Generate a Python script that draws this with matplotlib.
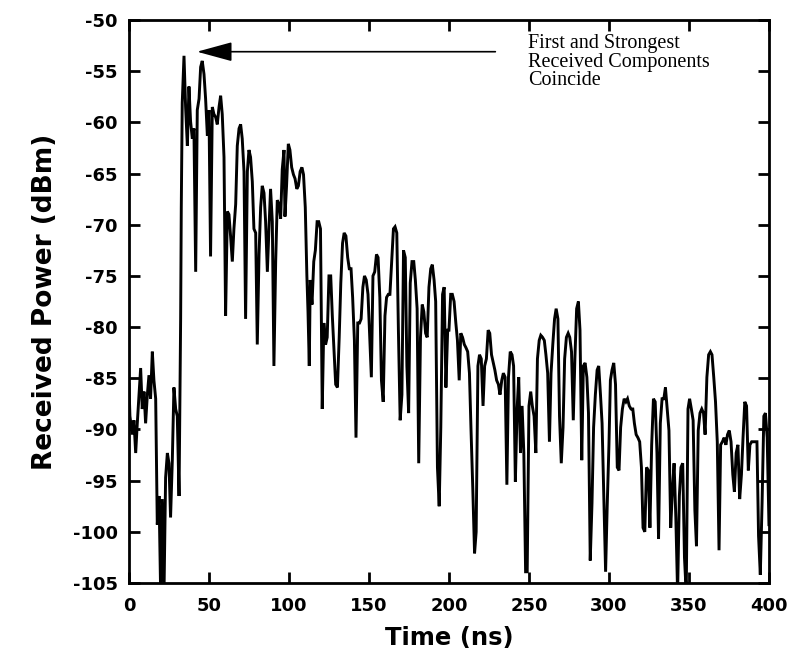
#!/usr/bin/env python3
"""Received power vs time (power delay profile) with annotation of the first /
strongest arrival."""

import matplotlib
matplotlib.use("Agg")
import matplotlib.pyplot as plt
import numpy as np

# ---- data (time in ns, power in dBm) ----
time_a = [0.0, 0.6, 2.1, 3.1, 4.2, 5.2, 6.3, 7.3, 8.3, 9.4, 10.4, 11.5, 12.5,
          13.5, 14.6, 15.6, 16.7, 17.7, 18.8, 19.8, 20.8, 21.9, 22.9, 24.0,
          25.0, 26.0, 27.1, 28.1, 29.2, 30.2, 31.3, 32.3, 32.7, 33.3, 34.4,
          35.4, 36.5, 37.5, 38.5, 39.6, 40.6, 41.7, 42.7, 43.8, 44.8, 45.8,
          46.9, 47.9, 49.0, 50.0, 51.0, 52.1, 53.1, 54.2, 55.2, 56.3, 57.3,
          58.3, 59.4, 60.4, 61.5, 62.5, 63.5, 64.6, 65.6, 66.7, 67.7, 68.8,
          69.8, 70.8, 71.9, 72.9, 74.0, 75.0, 76.0, 77.1, 78.1, 79.2, 80.2,
          81.3, 82.3, 83.3, 84.4, 85.4, 86.5, 87.5, 88.5, 89.6, 90.6, 91.7,
          92.7, 93.8, 94.8, 95.8, 96.9]
power_a = [-85.6, -88.7, -90.5, -89.1, -92.3, -89.4, -86.6, -84.0, -88.0,
           -86.3, -89.4, -86.6, -84.7, -87.0, -82.4, -85.2, -87.0, -99.3,
           -96.5, -106.0, -96.8, -106.0, -94.7, -92.3, -93.3, -98.6, -93.0,
           -85.9, -88.0, -88.7, -96.5, -79.2, -68.3, -58.1, -53.5, -58.5,
           -62.3, -56.5, -59.9, -61.6, -60.6, -74.6, -58.8, -57.7, -54.6,
           -54.0, -55.3, -57.7, -61.3, -58.8, -73.1, -58.5, -59.2, -59.5,
           -60.2, -58.5, -57.4, -59.2, -63.4, -78.9, -68.7, -69.0, -71.1,
           -73.6, -70.4, -68.0, -62.3, -60.6, -60.2, -61.6, -64.8, -79.2,
           -64.8, -62.7, -63.4, -65.8, -70.4, -70.8, -81.7, -72.9, -68.3,
           -66.2, -66.9, -69.7, -74.6, -70.4, -66.5, -69.7, -83.8, -73.6,
           -67.6, -68.0, -69.4, -64.6, -62.7]

time_b = [97.5, 98.5, 99.6, 100.6, 101.7, 102.8, 103.8, 104.9, 105.9, 107.0,
          108.1, 109.1, 110.2, 110.6, 111.2, 111.9, 112.7, 113.3, 114.4,
          115.5, 116.5, 117.6, 118.6, 119.7, 120.8, 121.8, 122.9, 123.9,
          125.0, 126.1, 127.1, 128.2, 129.2, 130.3, 131.4, 132.4, 133.5,
          134.5, 135.6, 136.7, 137.7, 138.8, 139.8, 140.9, 141.9, 143.0,
          144.1, 145.1, 146.2, 147.2, 148.3, 149.4, 150.4, 151.5, 152.5,
          153.6, 154.7, 155.7, 156.8, 157.8, 158.9, 160.0, 161.0, 162.1,
          163.1, 164.2, 165.3, 166.3, 167.4, 168.4, 169.5, 170.6, 171.6,
          172.7, 173.7, 174.8, 175.8, 176.9, 178.0, 179.0, 180.1, 181.1,
          182.2, 183.3, 184.3, 185.4, 186.4, 187.5, 188.6, 189.6, 190.7,
          191.7, 192.8, 193.9, 194.9, 196.0, 197.0, 198.1, 199.2]
power_b = [-69.2, -66.2, -62.1, -62.7, -64.4, -65.1, -65.5, -66.5, -66.2,
           -64.8, -64.4, -65.1, -68.3, -71.1, -75.0, -78.5, -83.8, -75.4,
           -77.8, -73.6, -72.5, -69.7, -69.7, -70.4, -88.0, -79.6, -81.7,
           -81.0, -75.0, -75.0, -78.9, -82.4, -85.6, -85.9, -81.0, -75.7,
           -71.8, -70.8, -71.1, -73.2, -74.3, -74.3, -77.1, -81.3, -90.8,
           -79.6, -79.6, -79.2, -76.1, -75.0, -75.4, -76.8, -80.6, -84.9,
           -75.0, -74.6, -72.9, -73.2, -77.1, -85.2, -87.3, -78.9, -77.1,
           -76.8, -76.8, -73.6, -70.4, -70.2, -70.8, -80.3, -89.1, -86.6,
           -72.5, -73.2, -83.8, -88.4, -75.7, -73.6, -73.6, -75.4, -78.2,
           -93.3, -81.0, -77.8, -78.5, -80.6, -81.0, -76.1, -74.3, -73.9,
           -75.4, -77.5, -93.7, -97.5, -89.8, -76.8, -76.1, -85.9, -80.3]

time_c = [200.0, 201.1, 202.1, 203.2, 204.3, 205.3, 206.4, 207.4, 208.5,
          209.6, 210.6, 211.7, 212.8, 213.8, 214.9, 216.0, 217.0, 218.1,
          219.1, 220.2, 221.3, 222.3, 223.4, 224.5, 225.5, 226.6, 227.7,
          228.7, 229.8, 230.9, 231.9, 233.0, 234.0, 235.1, 236.2, 237.2,
          238.3, 239.4, 240.4, 241.5, 242.6, 243.6, 244.7, 245.7, 246.8,
          247.9, 248.9, 250.0, 251.1, 252.1, 253.2, 254.3, 255.3, 256.4,
          257.4, 258.5, 259.6, 260.6, 261.7, 262.8, 263.8, 264.9, 266.0,
          267.0, 268.1, 269.1, 270.2, 271.3, 272.3, 273.4, 274.5, 275.5,
          276.6, 277.7, 278.7, 279.8, 280.9, 281.9, 283.0, 284.0, 285.1,
          286.2, 287.2, 288.3, 289.4, 290.4, 291.5, 292.6, 293.6, 294.7,
          295.7, 296.8, 297.9, 298.9, 300.0]
power_c = [-80.3, -76.8, -76.8, -77.5, -79.6, -81.3, -85.2, -80.6, -81.0,
           -81.7, -82.0, -82.4, -84.5, -90.1, -95.8, -102.1, -100.0, -83.8,
           -82.7, -83.1, -87.7, -83.8, -83.1, -80.3, -80.6, -82.7, -83.5,
           -84.2, -85.2, -85.6, -86.6, -85.2, -84.5, -84.9, -95.4, -84.9,
           -82.4, -82.7, -83.8, -95.1, -88.0, -84.9, -92.3, -87.7, -92.3,
           -103.9, -103.9, -87.7, -86.3, -87.7, -88.7, -92.3, -83.1, -81.3,
           -80.8, -81.0, -81.3, -82.7, -84.5, -91.2, -84.5, -81.7, -79.2,
           -78.2, -79.2, -88.7, -93.3, -89.8, -83.1, -81.0, -80.6, -81.0,
           -82.4, -89.1, -83.1, -78.2, -77.5, -80.3, -93.0, -83.8, -83.5,
           -84.9, -88.4, -102.8, -97.2, -89.8, -86.6, -84.2, -83.8, -86.6,
           -89.4, -96.5, -103.9, -97.5, -91.5]

time_d = [300.9, 301.9, 303.0, 304.1, 305.2, 306.3, 307.3, 308.4, 309.5,
          310.6, 311.6, 312.7, 313.8, 314.9, 315.9, 317.0, 318.1, 319.2,
          320.3, 321.3, 322.4, 323.5, 324.6, 325.6, 326.7, 327.8, 328.9,
          330.0, 331.0, 332.1, 333.2, 334.3, 335.3, 336.4, 337.5, 338.6,
          339.7, 340.7, 341.8, 342.9, 344.0, 345.0, 346.1, 347.2, 348.3,
          349.4, 350.4, 351.5, 352.6, 353.7, 354.7, 355.8, 356.9, 358.0,
          359.1, 360.1, 361.2, 362.3, 363.4, 364.4, 365.5, 366.6, 367.7,
          368.8, 369.8, 370.9, 372.0, 373.1, 374.1, 375.2, 376.3, 377.4,
          378.4, 379.5, 380.6, 381.7, 382.8, 383.8, 384.9, 386.0, 387.1,
          388.1, 389.2, 390.3, 391.4, 392.5, 393.5, 394.6, 395.7, 396.8,
          397.8, 398.9, 400.0]
power_d = [-85.2, -84.2, -83.5, -85.6, -93.7, -94.0, -89.8, -88.0, -87.0,
           -87.3, -87.0, -87.7, -88.0, -88.0, -89.4, -90.5, -90.8, -91.2,
           -93.7, -99.6, -100.0, -93.7, -94.0, -99.6, -91.5, -87.0, -87.3,
           -92.3, -100.7, -89.4, -87.0, -87.0, -85.9, -88.0, -90.1, -99.6,
           -95.8, -93.3, -98.6, -106.0, -96.5, -93.7, -93.3, -102.5, -106.0,
           -88.0, -87.0, -88.0, -89.1, -97.9, -101.4, -90.1, -88.4, -88.0,
           -88.4, -90.5, -84.9, -82.7, -82.4, -82.7, -84.9, -87.3, -91.2,
           -101.8, -91.5, -91.2, -90.8, -91.5, -90.5, -90.1, -91.2, -94.4,
           -96.1, -92.3, -91.5, -96.8, -94.4, -90.8, -87.3, -87.7, -94.0,
           -91.5, -91.2, -91.2, -91.2, -91.2, -100.4, -104.2, -97.2, -88.7,
           -88.4, -90.8, -99.3]

x_ticks = [0, 50, 100, 150, 200, 250, 300, 350, 400]
y_ticks = [-50, -55, -60, -65, -70, -75, -80, -85, -90, -95, -100, -105]

note = "First and Strongest\nReceived Components\nCoincide"
arrow_tip = (42.5, -53.1)
arrow_tail = (229.0, -53.1)
note_pos = (249.5, -51.4)


def main():
    t = np.concatenate([time_a, time_b, time_c, time_d])
    p = np.concatenate([power_a, power_b, power_c, power_d])

    fig = plt.figure(figsize=(8.03, 6.57), dpi=100)
    # frame: x 129..769 px, y 20..583 px
    ax = fig.add_axes([0.1606, 0.1126, 0.797, 0.857])

    ax.plot(t, p, color="black", lw=2.1, solid_joinstyle="miter")

    ax.set_xlim(0, 400)
    ax.set_ylim(-105, -50)
    ax.set_xticks(x_ticks)
    ax.set_yticks(y_ticks)

    tick_font = dict(family="DejaVu Sans", weight="bold", size=13)
    ax.set_xticklabels([str(v) for v in x_ticks], fontdict=tick_font)
    ax.set_yticklabels([str(v) for v in y_ticks], fontdict=tick_font)
    ax.tick_params(direction="in", length=8, width=2, top=True, right=True)
    ax.tick_params(axis="x", pad=10)
    ax.tick_params(axis="y", pad=8)
    for s in ax.spines.values():
        s.set_linewidth(2)

    ax.set_xlabel("Time (ns)", family="DejaVu Sans", weight="bold",
                  size=17.5, labelpad=8)
    ax.set_ylabel("Received Power (dBm)", family="DejaVu Sans",
                  weight="bold", size=19, labelpad=11)

    ax.annotate("", xy=arrow_tip, xytext=arrow_tail,
                arrowprops=dict(arrowstyle="-|>,head_length=2.2,head_width=0.6",
                                color="black", lw=1.2, shrinkA=0, shrinkB=0))
    ax.text(note_pos[0], note_pos[1], note, family="Liberation Serif",
            size=14.5, va="top", ha="left", linespacing=0.95)

    fig.savefig("out.png", dpi=100)
    plt.close(fig)


if __name__ == "__main__":
    main()
